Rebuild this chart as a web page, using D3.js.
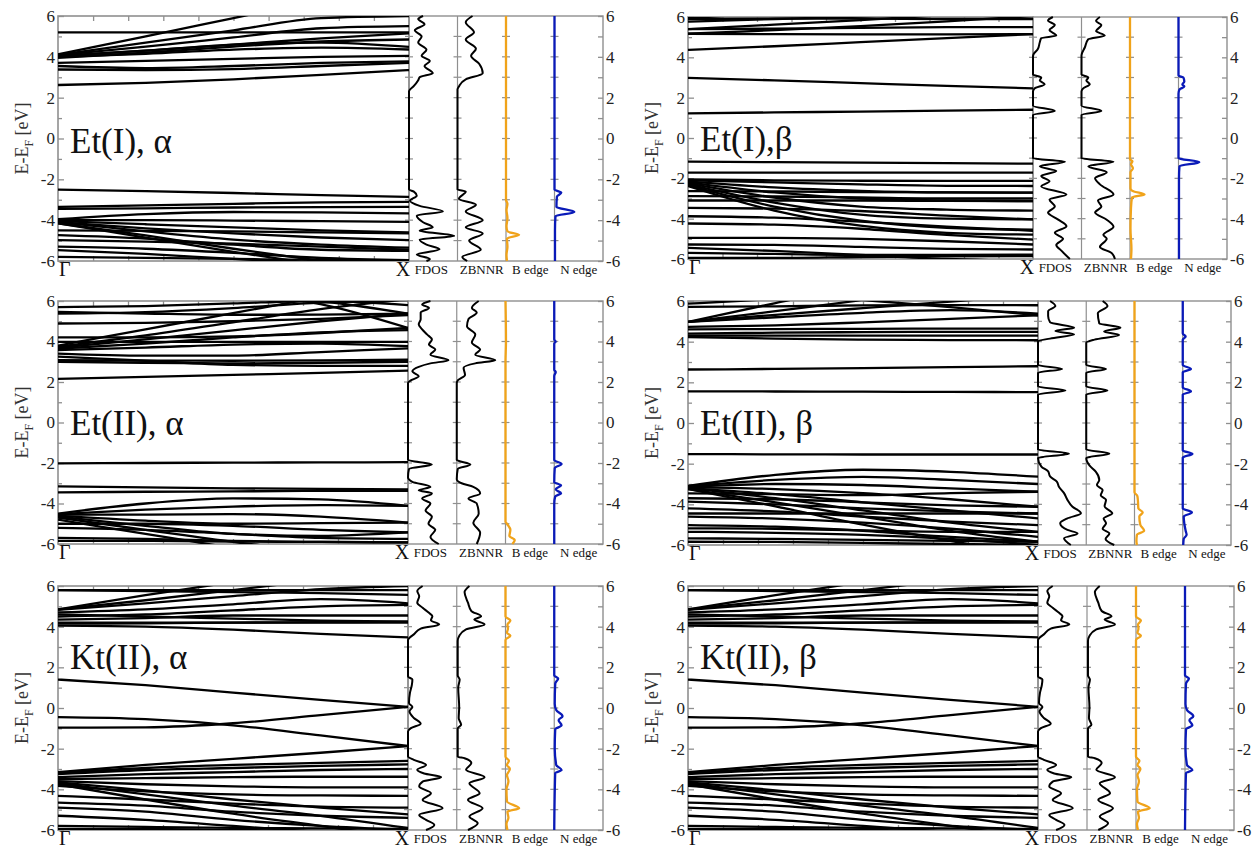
<!DOCTYPE html>
<html><head><meta charset="utf-8">
<script src="https://cdn.jsdelivr.net/npm/d3@7"></script>
<style>
body{margin:0;background:#fff;}
svg, svg text{font-family:"Liberation Serif","Times New Roman","DejaVu Serif",serif !important;}
</style></head><body>
<svg id="chart" width="1260" height="850" font-family="Liberation Serif, Times New Roman, serif"></svg>
<script>
// ---------------- data ----------------
const eTicks = [-6, -4, -2, 0, 2, 4, 6];
const eMinor = [-5, -3, -1, 1, 3, 5];
const kGrid = [0, 0.25, 0.5, 0.75, 1];
const kLabels = ["Γ", "X"];
const dosLabels = ["FDOS", "ZBNNR", "B edge", "N edge"];
const titles = ["Et(I), α", "Et(I),β", "Et(II), α", "Et(II), β", "Kt(II), α", "Kt(II), β"];

// band energies (eV) at kGrid points
const bandsEtIa = [
 [2.62,2.72,2.9,3.12,3.35],[3.38,3.35,3.4,3.55,3.7],[3.55,3.45,3.55,3.7,3.78],[3.7,3.8,3.9,4.0,4.05],
 [4.0,4.15,4.35,4.45,4.36],[4.05,4.3,4.6,4.7,4.49],[4.05,4.3,4.6,4.9,5.15],[3.95,4.2,4.5,4.75,4.85],
 [4.08,4.5,4.95,5.4,5.5],[4.1,4.7,5.3,5.9,6.0],[4.12,5.0,5.9,6.8,7.7],[5.2,5.2,5.2,5.2,5.2],
 [-2.5,-2.58,-2.67,-2.77,-2.86],[-3.35,-3.28,-3.2,-3.13,-3.1],[-3.45,-3.42,-3.38,-3.36,-3.35],
 [-3.95,-3.7,-3.6,-3.62,-3.67],[-4.0,-4.0,-4.02,-4.05,-4.08],[-4.05,-4.2,-4.35,-4.5,-4.6],
 [-4.1,-4.4,-4.65,-4.85,-4.98],[-4.1,-4.55,-4.95,-5.2,-5.35],[-4.15,-4.75,-5.4,-6.0,-6.6],
 [-4.15,-4.85,-5.55,-6.2,-6.8],[-4.5,-4.52,-4.55,-4.6,-4.65],[-4.73,-4.9,-5.2,-5.45,-5.5],
 [-4.98,-5.05,-5.15,-5.3,-5.45],[-5.3,-5.4,-5.6,-5.85,-5.96],[-5.47,-5.65,-5.9,-6.1,-6.3],
 [-5.8,-5.85,-5.9,-5.95,-5.98]
];
const bandsEtIb = [
 [1.22,1.27,1.31,1.36,1.4],[2.98,2.86,2.72,2.58,2.46],[4.37,4.55,4.75,4.95,5.15],[5.17,5.35,5.55,5.78,6.05],
 [5.17,5.15,5.14,5.14,5.15],[5.4,5.62,5.85,6.1,6.3],[5.4,5.42,5.46,5.5,5.5],[5.77,5.9,6.02,6.15,6.3],
 [5.9,5.92,5.92,5.9,5.9],[5.95,6.2,6.4,6.6,6.8],
 [-1.17,-1.2,-1.22,-1.25,-1.27],[-1.72,-1.72,-1.72,-1.72,-1.72],[-2.05,-2.1,-2.12,-2.13,-2.13],
 [-2.1,-2.2,-2.3,-2.37,-2.38],[-2.15,-2.45,-2.62,-2.7,-2.71],[-2.2,-2.7,-3.0,-3.1,-3.13],
 [-2.25,-2.95,-3.4,-3.55,-3.6],[-2.3,-3.2,-3.8,-4.0,-4.04],[-2.35,-3.4,-4.1,-4.45,-4.54],
 [-2.38,-3.6,-4.35,-4.7,-4.79],[-2.63,-2.65,-2.68,-2.7,-2.71],[-2.88,-2.9,-2.95,-3.0,-3.0],
 [-3.1,-3.1,-3.1,-3.12,-3.13],[-3.46,-3.5,-3.62,-3.85,-4.04],[-3.88,-3.95,-4.15,-4.4,-4.6],
 [-4.24,-4.3,-4.5,-4.8,-5.04],[-4.95,-4.95,-5.0,-5.12,-5.28],[-5.28,-5.3,-5.4,-5.5,-5.53],
 [-5.45,-5.6,-5.8,-6.0,-6.1],[-5.7,-5.75,-5.8,-5.8,-5.78],[-5.95,-5.95,-5.9,-5.87,-5.85]
];
const bandsEtIIa = [
 [2.15,2.25,2.35,2.45,2.56],[3.0,2.95,2.92,2.95,3.0],[3.08,3.06,3.05,3.07,3.1],[3.25,3.05,2.85,2.8,2.8],
 [3.4,3.3,3.3,3.48,3.66],[3.58,3.7,3.85,3.9,3.77],[3.65,3.9,4.2,4.45,4.56],[3.7,4.1,4.55,5.0,5.38],
 [3.74,4.3,4.95,5.6,6.1],[3.8,4.6,5.4,6.2,7.0],[3.98,3.98,3.98,3.98,3.98],[4.2,4.2,4.25,4.42,4.67],
 [4.89,4.92,5.0,5.12,5.3],[5.38,5.45,5.65,5.92,6.05],[5.46,5.38,5.32,5.33,5.38],[5.7,5.75,5.88,6.0,5.8],
 [7.6,7.0,6.4,5.85,4.67],[7.0,6.7,6.35,6.0,5.38],
 [-2.02,-2.0,-1.98,-1.97,-1.96],[-3.15,-3.2,-3.25,-3.28,-3.3],[-3.45,-3.42,-3.4,-3.38,-3.38],
 [-4.5,-4.0,-3.75,-3.8,-4.12],[-4.52,-4.3,-4.15,-4.08,-4.12],[-4.55,-4.55,-4.52,-4.65,-4.94],
 [-4.6,-4.85,-5.0,-4.97,-4.94],[-4.65,-5.1,-5.5,-5.6,-5.43],[-4.7,-5.3,-5.9,-6.4,-7.0],
 [-4.8,-5.5,-6.2,-6.9,-7.5],[-5.0,-5.0,-5.1,-5.3,-5.43],[-5.2,-5.3,-5.5,-5.7,-5.75],
 [-5.7,-5.75,-5.85,-5.9,-5.92],[-5.85,-5.85,-5.88,-5.9,-5.92]
];
const bandsEtIIb = [
 [1.56,1.55,1.54,1.53,1.52],[2.63,2.66,2.7,2.75,2.79],[4.23,4.15,4.1,4.08,4.07],[4.3,4.3,4.3,4.3,4.3],
 [4.4,4.44,4.47,4.48,4.48],[4.6,4.62,4.63,4.64,4.64],[4.73,4.8,4.95,5.12,5.3],[4.97,5.2,5.42,5.55,5.38],
 [4.97,5.32,5.65,5.97,6.3],[4.97,5.5,6.05,6.6,7.1],[4.97,5.9,6.8,7.6,8.4],[5.71,5.74,5.78,5.8,5.79],
 [5.87,6.1,6.35,6.6,6.85],[6.6,6.35,6.05,5.7,5.3],
 [-1.53,-1.54,-1.55,-1.55,-1.55],[-3.1,-2.55,-2.3,-2.4,-2.64],[-3.1,-2.8,-2.65,-2.8,-3.0],
 [-3.15,-3.0,-3.05,-3.22,-3.38],[-3.15,-3.25,-3.45,-3.75,-4.12],[-3.2,-3.5,-3.9,-4.3,-4.69],
 [-3.2,-3.7,-4.3,-4.9,-5.35],[-3.25,-3.9,-4.6,-5.3,-5.84],[-3.25,-4.1,-5.0,-5.8,-6.5],
 [-3.46,-3.5,-3.55,-3.45,-3.38],[-3.7,-3.75,-3.9,-4.05,-4.12],[-3.87,-4.0,-4.2,-4.35,-4.45],
 [-4.2,-4.35,-4.6,-4.85,-5.02],[-4.45,-4.45,-4.45,-4.45,-4.45],[-4.6,-4.7,-4.9,-5.2,-5.6],
 [-5.02,-5.1,-5.3,-5.6,-5.84],[-5.18,-5.2,-5.28,-5.35,-5.35],[-5.35,-5.4,-5.5,-5.7,-6.0],
 [-5.67,-5.7,-5.75,-5.8,-5.84],[-5.84,-5.85,-5.9,-5.95,-6.0]
];
const bandsKtIIa = [
 [1.4,1.12,0.76,0.4,0.06],[4.05,4.0,3.85,3.65,3.47],[4.15,4.16,4.2,4.22,4.25],[4.2,4.2,4.2,4.2,4.2],
 [4.35,4.42,4.55,4.55,4.55],[4.5,4.6,4.8,5.0,5.07],[4.6,4.5,4.4,4.3,4.25],[4.7,4.85,5.1,5.35,5.15],
 [4.83,5.15,5.5,5.85,6.0],[4.85,5.3,5.8,6.3,6.8],[4.85,5.55,6.2,6.9,7.5],[5.8,5.8,5.8,5.8,5.8],
 [5.8,5.75,5.7,5.65,5.56],
 [-0.45,-0.55,-0.85,-1.35,-1.87],[-0.97,-0.95,-0.75,-0.35,0.06],[-3.15,-2.8,-2.5,-2.2,-1.87],
 [-3.2,-2.95,-2.8,-2.7,-2.6],[-3.25,-3.05,-2.95,-2.85,-2.77],[-3.4,-3.25,-3.15,-3.05,-3.0],
 [-3.5,-3.45,-3.4,-3.38,-3.38],[-3.6,-3.75,-3.85,-3.9,-3.9],[-3.65,-4.05,-4.5,-4.9,-5.23],
 [-3.7,-4.25,-4.8,-5.3,-5.9],[-3.75,-4.5,-5.2,-5.8,-6.4],[-3.83,-4.1,-4.25,-4.3,-4.32],
 [-4.32,-4.5,-4.7,-4.85,-4.9],[-4.65,-4.8,-5.1,-5.3,-5.4],[-4.9,-5.1,-5.5,-5.8,-6.0],
 [-5.3,-5.5,-5.8,-6.1,-6.4],[-5.8,-5.85,-5.9,-5.92,-5.95],[-5.95,-5.95,-6.0,-6.05,-6.1]
];
const bandsKtIIb = bandsKtIIa.map(b => b.slice());

// DOS curves: [energy (eV), intensity as fraction of panel width]
const fdosEtIa = [[6,0.29],[5.85,0.19],[5.6,0.32],[5.3,0.12],[5.0,0.26],[4.7,0.19],[4.35,0.36],[4.05,0.26],[3.8,0.43],[3.55,0.32],[3.2,0.49],[3.0,0.22],[2.85,0.19],[2.55,0.09],[2.4,0.02],[2.3,0],[-2.5,0],[-2.6,0.1],[-2.8,0.16],[-3.05,0.02],[-3.3,0.22],[-3.57,0.7],[-3.78,0.16],[-4.1,0.29],[-4.35,0.49],[-4.52,0.22],[-4.77,0.93],[-4.95,0.22],[-5.2,0.36],[-5.43,0.63],[-5.68,0.16],[-5.9,0.43],[-6,0.36]];
const zbnnrEtIa = [[6,0.31],[5.7,0.17],[5.2,0.34],[4.85,0.17],[4.4,0.38],[4.05,0.28],[3.65,0.45],[3.2,0.52],[2.9,0.17],[2.55,0.03],[2.4,0],[-2.5,0],[-2.6,0.17],[-2.95,0.03],[-3.25,0.38],[-3.57,0.17],[-4.0,0.52],[-4.35,0.17],[-4.65,0.52],[-5.0,0.24],[-5.45,0.48],[-5.8,0.1],[-6,0.2]];
const bedgeEtIa = [[6,0],[-3.0,0],[-3.2,0.03],[-3.5,0.01],[-3.9,0.03],[-4.3,0.01],[-4.55,0.03],[-4.72,0.27],[-4.9,0.02],[-5.3,0.03],[-5.7,0.01],[-6,0.02]];
const nedgeEtIa = [[6,0],[-2.5,0],[-2.65,0.14],[-2.85,0.05],[-3.35,0.04],[-3.6,0.41],[-3.8,0.02],[-4.5,0.01],[-6,0.01]];

const fdosEtIb = [[6,0.41],[5.83,0.31],[5.6,0.45],[5.35,0.34],[5.08,0.48],[4.95,0.17],[4.75,0.14],[4.41,0.1],[4.15,0.01],[4.05,0],[3.15,0],[3.0,0.17],[2.85,0.14],[2.67,0.24],[2.45,0.03],[2.3,0],[1.6,0],[1.34,0.45],[1.15,0],[-1.0,0],[-1.18,0.66],[-1.4,0.14],[-1.64,0.48],[-1.88,0.17],[-2.15,0.34],[-2.4,0.17],[-2.8,0.69],[-3.05,0.34],[-3.4,0.45],[-3.7,0.31],[-4.05,0.52],[-4.38,0.69],[-4.7,0.45],[-5.0,0.62],[-5.3,0.48],[-5.6,0.59],[-6,0.76]];
const zbnnrEtIb = [[6,0.38],[5.8,0.3],[5.6,0.41],[5.3,0.3],[5.08,0.48],[4.9,0.14],[4.5,0.07],[4.1,0],[3.15,0],[3.0,0.14],[2.85,0.1],[2.67,0.17],[2.45,0.03],[2.3,0],[1.6,0],[1.34,0.41],[1.15,0],[-1.0,0],[-1.18,0.66],[-1.4,0.14],[-1.7,0.52],[-2.0,0.28],[-2.3,0.38],[-2.8,0.66],[-3.1,0.34],[-3.4,0.41],[-3.7,0.28],[-4.05,0.52],[-4.4,0.66],[-4.8,0.45],[-5.0,0.52],[-5.4,0.38],[-5.7,0.62],[-6,0.69]];
const bedgeEtIb = [[6,0],[-1.05,0],[-1.15,0.05],[-1.3,0.02],[-1.5,0.06],[-1.7,0.01],[-2.5,0.01],[-2.65,0.08],[-2.8,0.3],[-2.95,0.04],[-3.5,0.02],[-4.5,0.01],[-5.5,0.03],[-6,0.02]];
const nedgeEtIb = [[6,0],[3.1,0],[3.0,0.1],[2.8,0.12],[2.65,0.08],[2.55,0.12],[2.4,0.02],[2.2,0],[-1.0,0],[-1.2,0.43],[-1.4,0.02],[-2,0.01],[-6,0.01]];

const fdosEtIIa = [[6,0.46],[5.83,0.29],[5.66,0.43],[5.43,0.26],[5.1,0.26],[4.85,0.22],[4.6,0.29],[4.35,0.39],[4.1,0.49],[3.85,0.43],[3.6,0.56],[3.35,0.46],[3.08,0.83],[2.92,0.46],[2.75,0.22],[2.53,0.09],[2.28,0.22],[2.07,0.05],[1.95,0],[-1.85,0],[-2.07,0.49],[-2.3,0.02],[-2.7,0],[-2.93,0.09],[-3.18,0.46],[-3.35,0.22],[-3.5,0.49],[-3.75,0.29],[-4.0,0.46],[-4.35,0.36],[-4.65,0.49],[-5.0,0.42],[-5.3,0.56],[-5.65,0.46],[-6,0.63]];
const zbnnrEtIIa = [[6,0.45],[5.66,0.31],[5.43,0.41],[5.1,0.24],[4.75,0.21],[4.35,0.38],[3.95,0.31],[3.6,0.48],[3.35,0.38],[3.08,0.79],[2.92,0.38],[2.7,0.14],[2.35,0.17],[2.1,0.03],[1.95,0],[-1.85,0],[-2.07,0.28],[-2.3,0.02],[-2.8,0],[-3.0,0.1],[-3.18,0.34],[-3.5,0.48],[-3.75,0.24],[-4.0,0.41],[-4.5,0.45],[-4.95,0.34],[-5.45,0.48],[-6,0.41]];
const bedgeEtIIa = [[6,0],[4.0,0.01],[3.0,0],[-4.9,0],[-5.0,0.03],[-5.3,0.1],[-5.6,0.08],[-5.8,0.19],[-6,0.14]];
const nedgeEtIIa = [[6,0],[4.1,0],[4.0,0.03],[3.9,0],[2.6,0],[2.5,0.03],[2.3,0],[-1.85,0],[-2.05,0.15],[-2.25,0.01],[-2.95,0],[-3.1,0.14],[-3.3,0.03],[-3.5,0.14],[-3.65,0.02],[-4,0],[-6,0]];

const fdosEtIIb = [[6,0.25],[5.75,0.36],[5.5,0.21],[5.26,0.21],[4.95,0.25],[4.69,0.75],[4.52,0.36],[4.36,0.75],[4.15,0.25],[4.03,0],[2.85,0],[2.66,0.5],[2.47,0],[1.8,0],[1.6,0.57],[1.4,0],[-1.3,0],[-1.51,0.64],[-1.72,0],[-2.14,0.07],[-2.38,0.21],[-2.63,0.25],[-2.88,0.39],[-3.12,0.43],[-3.45,0.54],[-3.78,0.61],[-4.11,0.71],[-4.44,0.89],[-4.69,0.61],[-4.93,0.46],[-5.26,0.61],[-5.43,0.82],[-5.67,0.54],[-6,0.68]];
const zbnnrEtIIb = [[6,0.34],[5.75,0.44],[5.4,0.24],[4.9,0.27],[4.69,0.71],[4.5,0.37],[4.33,0.68],[4.1,0.17],[3.95,0],[2.85,0],[2.66,0.41],[2.47,0],[1.8,0],[1.6,0.44],[1.4,0],[-1.3,0],[-1.51,0.48],[-1.72,0],[-2.1,0.07],[-2.4,0.2],[-2.8,0.27],[-3.05,0.22],[-3.3,0.34],[-3.55,0.3],[-3.78,0.41],[-4.1,0.38],[-4.44,0.54],[-4.7,0.36],[-4.93,0.41],[-5.2,0.34],[-5.43,0.48],[-5.7,0.4],[-6,0.58]];
const bedgeEtIIb = [[6,0],[-3.4,0],[-3.6,0.06],[-3.8,0.07],[-4.2,0.08],[-4.4,0.17],[-4.6,0.1],[-5.0,0.12],[-5.3,0.2],[-5.5,0.05],[-5.8,0.04],[-6,0.05]];
const nedgeEtIIb = [[6,0],[4.4,0],[4.25,0.06],[4.1,0],[2.85,0],[2.66,0.17],[2.5,0],[1.75,0],[1.55,0.17],[1.4,0],[-1.35,0],[-1.52,0.2],[-1.7,0],[-4.2,0],[-4.4,0.19],[-4.6,0.02],[-5.3,0.06],[-5.5,0.08],[-5.7,0.02],[-6,0.01]];

const fdosKtIIa = [[6,0.3],[5.75,0.19],[5.5,0.23],[5.18,0.19],[4.93,0.3],[4.68,0.43],[4.51,0.5],[4.31,0.47],[4.11,0.64],[3.9,0.26],[3.62,0.12],[3.45,0.03],[3.35,0],[1.55,0],[1.4,0.09],[1.15,0.08],[0.74,0.04],[0.25,0.02],[0.05,0.09],[-0.16,0.03],[-0.49,0.12],[-0.77,0.26],[-0.99,0.06],[-1.15,0],[-2.39,0],[-2.55,0.12],[-2.8,0.37],[-3.04,0.19],[-3.22,0.33],[-3.4,0.68],[-3.62,0.3],[-3.86,0.23],[-4.19,0.47],[-4.52,0.3],[-4.93,0.71],[-5.26,0.23],[-5.5,0.37],[-5.75,0.54],[-6,0.37]];
const zbnnrKtIIa = [[6,0.26],[5.7,0.16],[5.18,0.23],[4.77,0.3],[4.51,0.5],[4.35,0.36],[4.11,0.57],[3.87,0.19],[3.54,0.05],[3.3,0.02],[1.6,0.02],[1.4,0.06],[1.0,0.03],[0.05,0.05],[-0.5,0.04],[-0.82,0.09],[-1.0,0.02],[-2.4,0.02],[-2.47,0.16],[-2.71,0.3],[-3.04,0.19],[-3.4,0.57],[-3.7,0.26],[-4.19,0.47],[-4.52,0.23],[-4.93,0.53],[-5.34,0.26],[-5.67,0.43],[-6,0.23]];
const bedgeKtIIa = [[6,0],[4.5,0],[4.3,0.1],[4.1,0.04],[3.9,0.05],[3.7,0.03],[3.55,0.1],[3.35,0],[-2.4,0],[-2.6,0.07],[-2.8,0.03],[-3.0,0.09],[-3.3,0.03],[-3.6,0.06],[-4.0,0.02],[-4.6,0.03],[-4.93,0.28],[-5.1,0.04],[-5.4,0.06],[-5.7,0.02],[-6,0.04]];
const nedgeKtIIa = [[6,0],[1.6,0],[1.45,0.08],[1.2,0.02],[0.2,0.01],[-0.1,0.04],[-0.4,0.17],[-0.6,0.09],[-0.85,0.15],[-1.05,0.02],[-2.0,0.01],[-2.8,0.04],[-3.05,0.15],[-3.2,0.02],[-6,0]];
const fdosKtIIb = fdosKtIIa.map(d => d.slice());
const zbnnrKtIIb = zbnnrKtIIa.map(d => d.slice());
const bedgeKtIIb = bedgeKtIIa.map(d => d.slice());
const nedgeKtIIb = nedgeKtIIa.map(d => d.slice());

// ---------------- layout ----------------
const panels = [
  {title: titles[0], bands: bandsEtIa, dos: [fdosEtIa, zbnnrEtIa, bedgeEtIa, nedgeEtIa], box: {x0: 58, x1: 409, y0: 16, y1: 261, x2: 603}, titleE: -0.7, ylabX: 22},
  {title: titles[1], bands: bandsEtIb, dos: [fdosEtIb, zbnnrEtIb, bedgeEtIb, nedgeEtIb], box: {x0: 688, x1: 1033, y0: 17, y1: 259, x2: 1227}, titleE: -0.65, ylabX: 652},
  {title: titles[2], bands: bandsEtIIa, dos: [fdosEtIIa, zbnnrEtIIa, bedgeEtIIa, nedgeEtIIa], box: {x0: 58, x1: 408, y0: 301, y1: 544, x2: 603}, titleE: -0.6, ylabX: 22},
  {title: titles[3], bands: bandsEtIIb, dos: [fdosEtIIb, zbnnrEtIIb, bedgeEtIIb, nedgeEtIIb], box: {x0: 688, x1: 1038, y0: 301, y1: 545, x2: 1231}, titleE: -0.6, ylabX: 652},
  {title: titles[4], bands: bandsKtIIa, dos: [fdosKtIIa, zbnnrKtIIa, bedgeKtIIa, nedgeKtIIa], box: {x0: 58, x1: 408, y0: 586, y1: 830, x2: 603}, titleE: 1.9, ylabX: 22},
  {title: titles[5], bands: bandsKtIIb, dos: [fdosKtIIb, zbnnrKtIIb, bedgeKtIIb, nedgeKtIIb], box: {x0: 688, x1: 1038, y0: 586, y1: 830, x2: 1234}, titleE: 1.9, ylabX: 652}
];
const dosColors = ["#000", "#000", "#f0a31a", "#0a1ab8"];
const frameColor = "#8f8f8f";
const FONT = "'Liberation Serif', 'Times New Roman', 'DejaVu Serif', serif";

const svg = d3.select("#chart");
const defs = svg.append("defs");

function txt(sel) { return sel.style("font-family", FONT).attr("fill", "#111"); }

panels.forEach((p, pi) => {
  const b = p.box;
  const g = svg.append("g");
  const y = d3.scaleLinear().domain([-6, 6]).range([b.y1, b.y0]);
  const xk = d3.scaleLinear().domain([0, 1]).range([b.x0, b.x1]);
  const w = (b.x2 - b.x1) / 4;

  // frames first
  g.append("rect").attr("x", b.x0).attr("y", b.y0).attr("width", b.x1 - b.x0).attr("height", b.y1 - b.y0)
    .attr("fill", "none").attr("stroke", frameColor).attr("stroke-width", 1.6);
  g.append("rect").attr("x", b.x1).attr("y", b.y0).attr("width", b.x2 - b.x1).attr("height", b.y1 - b.y0)
    .attr("fill", "none").attr("stroke", frameColor).attr("stroke-width", 1.4);
  for (let j = 1; j < 4; j++) {
    g.append("line").attr("x1", b.x1 + j * w).attr("x2", b.x1 + j * w).attr("y1", b.y0).attr("y2", b.y1)
      .attr("stroke", frameColor).attr("stroke-width", 1.2);
  }

  // left axis (major + minor)
  const axL = g.append("g").attr("transform", `translate(${b.x0},0)`)
    .call(d3.axisLeft(y).tickValues(eTicks).tickSize(-6).tickPadding(3).tickFormat(d => String(d)));
  const axLm = g.append("g").attr("transform", `translate(${b.x0},0)`)
    .call(d3.axisLeft(y).tickValues(eMinor).tickSize(-4).tickFormat(""));
  const kt = d3.range(1, 10).map(i => i / 10);
  const axT = g.append("g").attr("transform", `translate(0,${b.y0})`)
    .call(d3.axisTop(xk).tickValues(kt).tickSize(-5).tickFormat(""));
  const axB = g.append("g").attr("transform", `translate(0,${b.y1})`)
    .call(d3.axisBottom(xk).tickValues(kt).tickSize(-5).tickFormat(""));
  const axR = g.append("g").attr("transform", `translate(${b.x2},0)`)
    .call(d3.axisRight(y).tickValues(eTicks).tickSize(-5).tickPadding(3).tickFormat(d => String(d)));
  const axRm = g.append("g").attr("transform", `translate(${b.x2},0)`)
    .call(d3.axisRight(y).tickValues(eMinor).tickSize(-5).tickFormat(""));
  [axL, axLm, axT, axB, axR, axRm].forEach(a => {
    a.select(".domain").remove();
    a.selectAll(".tick line").attr("stroke", frameColor).attr("stroke-width", 1.3);
  });
  [axL, axR].forEach(a => txt(a.selectAll("text")).attr("font-size", 17).attr("fill", "#222"));

  // divider ticks (both sides)
  const unit = d3.range(-5, 6);
  for (let j = 0; j < 4; j++) {
    const xd = b.x1 + j * w;
    g.append("g").selectAll("line").data(unit).join("line")
      .attr("x1", xd - 4).attr("x2", xd + 4).attr("y1", d => y(d)).attr("y2", d => y(d))
      .attr("stroke", frameColor).attr("stroke-width", 1.2);
  }

  // band lines
  defs.append("clipPath").attr("id", "clipB" + pi)
    .append("rect").attr("x", b.x0).attr("y", b.y0).attr("width", b.x1 - b.x0).attr("height", b.y1 - b.y0);
  const bandLine = d3.line().x((d, i) => xk(kGrid[i])).y(d => y(d)).curve(d3.curveMonotoneX);
  g.append("g").attr("clip-path", `url(#clipB${pi})`)
    .selectAll("path").data(p.bands).join("path")
    .attr("d", bandLine).attr("fill", "none").attr("stroke", "#000").attr("stroke-width", 2.3);

  // DOS curves + labels
  p.dos.forEach((dd, j) => {
    const px0 = b.x1 + j * w;
    const xs = d3.scaleLinear().domain([0, 1]).range([px0, px0 + w]);
    const dl = d3.line().x(d => xs(d[1])).y(d => y(d[0])).curve(d3.curveMonotoneY);
    g.append("path").datum(dd).attr("d", dl).attr("fill", "none")
      .attr("stroke", dosColors[j]).attr("stroke-width", j < 2 ? 2 : 2.3);
    txt(g.append("text")).attr("x", px0 + w / 2 - (j === 0 ? 2 : 0)).attr("y", b.y1 + 13)
      .attr("text-anchor", "middle").attr("font-size", 13).text(dosLabels[j]);
  });

  // k labels
  txt(g.append("text")).attr("x", xk(0) + 1).attr("y", b.y1 + 15).attr("font-size", 20).text(kLabels[0]);
  txt(g.append("text")).attr("x", xk(1) - 6).attr("y", b.y1 + 15).attr("text-anchor", "middle").attr("font-size", 20).text(kLabels[1]);

  // title
  txt(g.append("text")).attr("x", b.x0 + 12).attr("y", y(p.titleE)).attr("font-size", 35).text(p.title);

  // y label
  const yl = txt(g.append("text")).attr("transform", `translate(${p.ylabX + 6},${(b.y0 + b.y1) / 2}) rotate(-90)`)
    .attr("text-anchor", "middle").attr("font-size", 18).attr("fill", "#333");
  yl.append("tspan").text("E-E");
  yl.append("tspan").attr("font-size", 12).attr("dy", 5).text("F");
  yl.append("tspan").attr("dy", -5).text(" [eV]");
});
</script>
</body></html>
